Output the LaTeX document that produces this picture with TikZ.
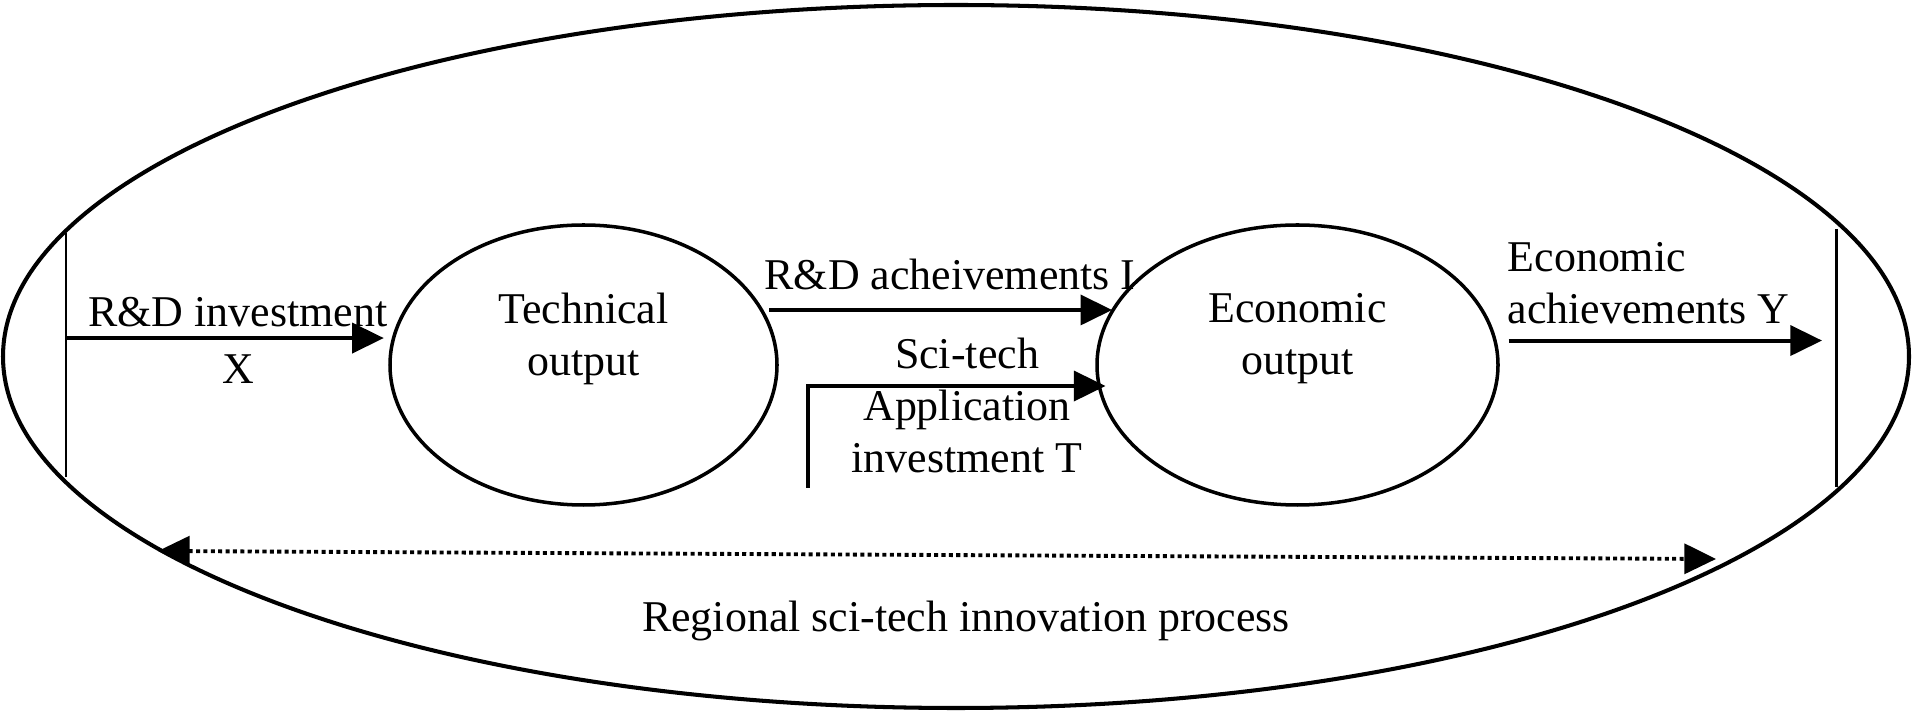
\documentclass[tikz,border=0pt]{standalone}
\usepackage{fontspec}
\setmainfont{Liberation Serif}
\usepackage{xcolor}
\usepackage{tikz}
\usetikzlibrary{shapes,shapes.geometric}
\usetikzlibrary{calc,arrows.meta,positioning}
\tikzset{
  region/.style={ellipse, draw, line width=1.15pt, minimum width=190.6mm, minimum height=70.3mm, inner sep=0pt},
  outnode/.style={ellipse, draw, line width=1pt, inner sep=0pt, minimum height=28mm},
  lbl/.style={inner sep=0pt, align=center, font=\fontsize{12.5}{14.8}\selectfont},
  flow/.style={line width=1.15pt, -{Triangle[length=9pt,width=8.5pt]}},
  bar/.style={line width=0.85pt},
  span/.style={line width=1.1pt, dash pattern=on 1.15pt off 0.95pt, {Triangle[length=9pt,width=8.5pt]}-{Triangle[length=9pt,width=8.5pt]}}
}
\begin{document}
\begin{tikzpicture}[x=0.1mm,y=-0.1mm]
	\useasboundingbox (0,0) rectangle (1912,719);
	\node[region] (proc) at (956,356.5) {};
	\node[outnode, minimum width=38.7mm] (tech) at (583.5,365) {};
	\node[outnode, minimum width=40.1mm] (econ) at (1297.5,365) {};
	\coordinate (lbtop) at (66,233);
	\coordinate (lbbot) at (66,477);
	\coordinate (rbtop) at (1836,229);
	\coordinate (rbbot) at (1836,487);
	\coordinate (tfoot) at (808,488);
	\coordinate (pl) at (158,551);
	\coordinate (pr) at (1716,559);
	\draw[bar] (lbtop) -- (lbbot);
	\draw[bar] (rbtop) -- (rbbot);
	\node[lbl] (techtxt) at (583.5,338.5) {Technical\\output};
	\node[lbl] (econtxt) at (1297.5,338.5) {Economic\\output};
	\node[lbl] (xlbl) at (238,340.5) {R\&D investment\\[0.5mm]X};
	\node[lbl, anchor=base] (ilbl) at (950,290) {R\&D acheivements I};
	\node[lbl] (tlbl) at (967,405) {Sci-tech\\Application\\investment T};
	\node[lbl, align=left, anchor=west] (ylbl) at (1507,283) {Economic\\achievements Y};
	\node[lbl, anchor=base] (proclbl) at (966,632) {Regional sci-tech innovation process};
	\draw[flow, shorten >=0.8mm] (lbtop |- tech.172) -- (tech.172);
	\draw[flow, shorten <=0.6mm] (tech.17) -- (tech.17 -| econ.163.5);
	\draw[flow, shorten >=-0.8mm] (tfoot) |- (econ.186);
	\draw[flow, shorten <=1.2mm, shorten >=1.4mm] (econ.7) -- (econ.7 -| rbtop);
	\draw[span] (pl) -- (pr);
\end{tikzpicture}
\end{document}
